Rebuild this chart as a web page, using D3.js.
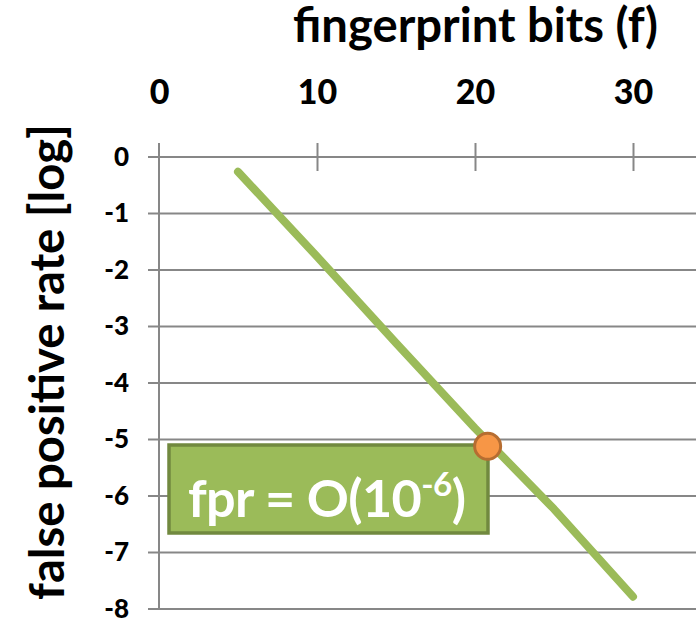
<!DOCTYPE html>
<html>
<head>
<meta charset="utf-8">
<script src="https://cdn.jsdelivr.net/npm/d3@7"></script>
<style>
  html, body { margin: 0; padding: 0; background: #fff; }
  svg { display: block; }
  text { font-family: Lato, "Open Sans", sans-serif; font-weight: 700; }
</style>
</head>
<body>
<svg id="chart" width="696" height="620"></svg>
<script>
// ---- data ----
const fingerprintBits = [5, 10, 15, 20, 25, 30];
const logFpr = [-0.27, -1.77, -3.3, -4.81, -6.24, -7.79];
const xTicks = [0, 10, 20, 30];
const yTicks = [0, -1, -2, -3, -4, -5, -6, -7, -8];
const markerBits = [20.8];
const markerLogFpr = [-5.13];
const xTitle = "fingerprint bits (f)";
const yTitle = "false positive rate [log]";
const annotationMain = "fpr = O(10";
const annotationSup = "-6";
const annotationEnd = ")";

// ---- layout ----
const svg = d3.select("#chart");
const x = d3.scaleLinear().domain([0, 30]).range([159, 633]);
const y = d3.scaleLinear().domain([-8, 0]).range([608.5, 156.5]);
const gridColor = "#878787";
const green = "#9BBB59";

// horizontal gridlines with left tick stubs
const yAxis = d3.axisLeft(y).tickValues(yTicks).tickSize(0).tickFormat(d => d);
const gy = svg.append("g").attr("transform", `translate(${x(0)},0)`).call(yAxis);
gy.select(".domain").remove();
gy.selectAll(".tick line").remove();
gy.selectAll(".tick").append("line")
  .attr("x1", -11).attr("x2", 696 - x(0))
  .attr("stroke", gridColor).attr("stroke-width", 2);
gy.selectAll(".tick text")
  .attr("x", -30).attr("dy", "0.34em")
  .attr("fill", "#000").attr("font-size", 26)
  .style("font-family", "Lato, sans-serif").style("font-weight", 900);

// vertical axis line
svg.append("line")
  .attr("x1", x(0)).attr("x2", x(0))
  .attr("y1", y(0) - 13.5).attr("y2", y(-8))
  .attr("stroke", gridColor).attr("stroke-width", 2);

// top axis
const xAxis = d3.axisTop(x).tickValues(xTicks).tickSize(0).tickFormat(d => d);
const gx = svg.append("g").attr("transform", `translate(0,${y(0)})`).call(xAxis);
gx.select(".domain").remove();
gx.selectAll(".tick line").remove();
gx.selectAll(".tick").filter(d => d !== 0).append("line")
  .attr("y1", -13.5).attr("y2", 14.5)
  .attr("stroke", gridColor).attr("stroke-width", 2);
gx.selectAll(".tick text")
  .attr("y", 104 - y(0)).attr("dy", 0)
  .attr("fill", "#000").attr("font-size", 34)
  .style("font-family", "Lato, sans-serif").style("font-weight", 900);

// axis titles
const xt = svg.append("text")
  .attr("x", 293).attr("y", 42)
  .attr("font-size", 38).attr("fill", "#000")
  .text(xTitle);
{
  const w = xt.node().getComputedTextLength();
  xt.attr("font-size", 38 * 365 / w);
}
const yt = svg.append("text")
  .attr("transform", "translate(64,362) rotate(-90)")
  .attr("text-anchor", "middle")
  .attr("font-size", 42).attr("fill", "#000")
  .text(yTitle);
{
  const w = yt.node().getComputedTextLength();
  yt.attr("font-size", 42 * 476 / w);
}

// line
const pts = fingerprintBits.map((f, i) => [f, logFpr[i]]);
svg.append("path")
  .datum(pts)
  .attr("fill", "none")
  .attr("stroke", green)
  .attr("stroke-width", 8)
  .attr("stroke-linecap", "round")
  .attr("stroke-linejoin", "round")
  .attr("d", d3.line().x(d => x(d[0])).y(d => y(d[1])));

// annotation box
const box = { x0: 169, y0: 445, x1: 488, y1: 533 };
svg.append("rect")
  .attr("x", box.x0).attr("y", box.y0)
  .attr("width", box.x1 - box.x0).attr("height", box.y1 - box.y0)
  .attr("fill", green).attr("stroke", "#71893F").attr("stroke-width", 3.5);
const at = svg.append("text")
  .attr("x", 188).attr("y", 517)
  .attr("fill", "#fff").attr("font-size", 44)
  .attr("letter-spacing", -0.6);
at.append("tspan").text(annotationMain);
at.append("tspan").attr("font-size", 28).attr("dy", -21).text(annotationSup);
at.append("tspan").attr("dy", 21).text(annotationEnd);
{
  const w = at.node().getComputedTextLength();
  const s = 276 / w;
  at.attr("font-size", 44 * s);
  at.select("tspan:nth-child(2)").attr("font-size", 28 * s);
}

// marker
svg.selectAll("circle.marker")
  .data(markerBits.map((f, i) => [f, markerLogFpr[i]]))
  .join("circle")
  .attr("class", "marker")
  .attr("cx", d => x(d[0])).attr("cy", d => y(d[1]))
  .attr("r", 13)
  .attr("fill", "#F79646").attr("stroke", "#B66D31").attr("stroke-width", 3);
</script>
</body>
</html>
